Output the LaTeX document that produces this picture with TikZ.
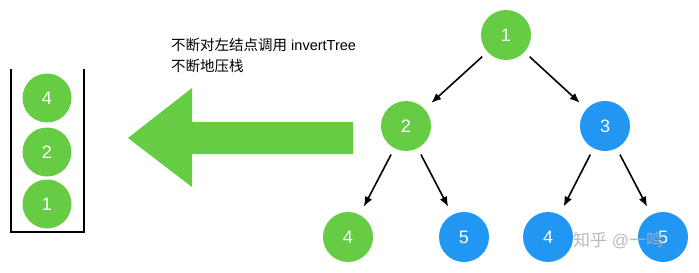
\documentclass[tikz,border=0pt]{standalone}
\usepackage{fontspec}
\setmainfont{Liberation Sans}
\newfontfamily\cjk{Noto Sans CJK SC}
\usetikzlibrary{arrows.meta}
\definecolor{ngreen}{RGB}{102,204,68}
\definecolor{nblue}{RGB}{33,150,243}
\begin{document}
\begin{tikzpicture}[x=1pt,y=-1pt,
  tnode/.style={circle,minimum size=50pt,inner sep=0pt,text=white,font=\fontsize{18}{20}\selectfont},
  gnode/.style={tnode,fill=ngreen},
  bnode/.style={tnode,fill=nblue},
  snode/.style={gnode,minimum size=49pt},
  edge/.style={-{Latex[length=10pt,width=8pt]},line width=1.6pt,shorten <=7pt,shorten >=9pt}]
\useasboundingbox (0,0) rectangle (699,273);
% tree
\node[gnode] (n1) at (506,35) {1};
\node[gnode] (n2) at (406,126) {2};
\node[bnode] (n3) at (605,126) {3};
\node[gnode] (n4) at (348,237) {4};
\node[bnode] (n5) at (464,237) {5};
\node[bnode] (m4) at (548,237) {4};
\node[bnode] (m5) at (663,237) {5};
\draw[edge] (n1) -- (n2);
\draw[edge] (n1) -- (n3);
\draw[edge] (n2) -- (n4);
\draw[edge] (n2) -- (n5);
\draw[edge] (n3) -- (m4);
\draw[edge] (n3) -- (m5);
% stack
\draw[line width=1.8pt] (11,69) -- (11,232) -- (84,232) -- (84,69);
\node[snode] (s4) at (47,98) {4};
\node[snode] (s2) at (47,152) {2};
\node[snode] (s1) at (47,204) {1};
% big arrow
\fill[ngreen] (128,138) -- (192,88) -- (192,122) -- (353,122) -- (353,154) -- (192,154) -- (192,187) -- cycle;
% text
\node[anchor=west,inner sep=0pt,font=\fontsize{14.5}{16}\selectfont] (t1) at (171,45) {{\cjk 不断对左结点调用} invertTree};
\node[anchor=west,inner sep=0pt,font=\fontsize{14.5}{16}\selectfont] (t2) at (171,66) {\cjk 不断地压栈};
% watermark
\node[anchor=west,inner sep=0pt,text=gray!60,opacity=0.9,font=\fontsize{17}{19}\selectfont] (wm) at (573,240) {{\cjk 知乎} @{\cjk 一鸣}};
\end{tikzpicture}
\end{document}
